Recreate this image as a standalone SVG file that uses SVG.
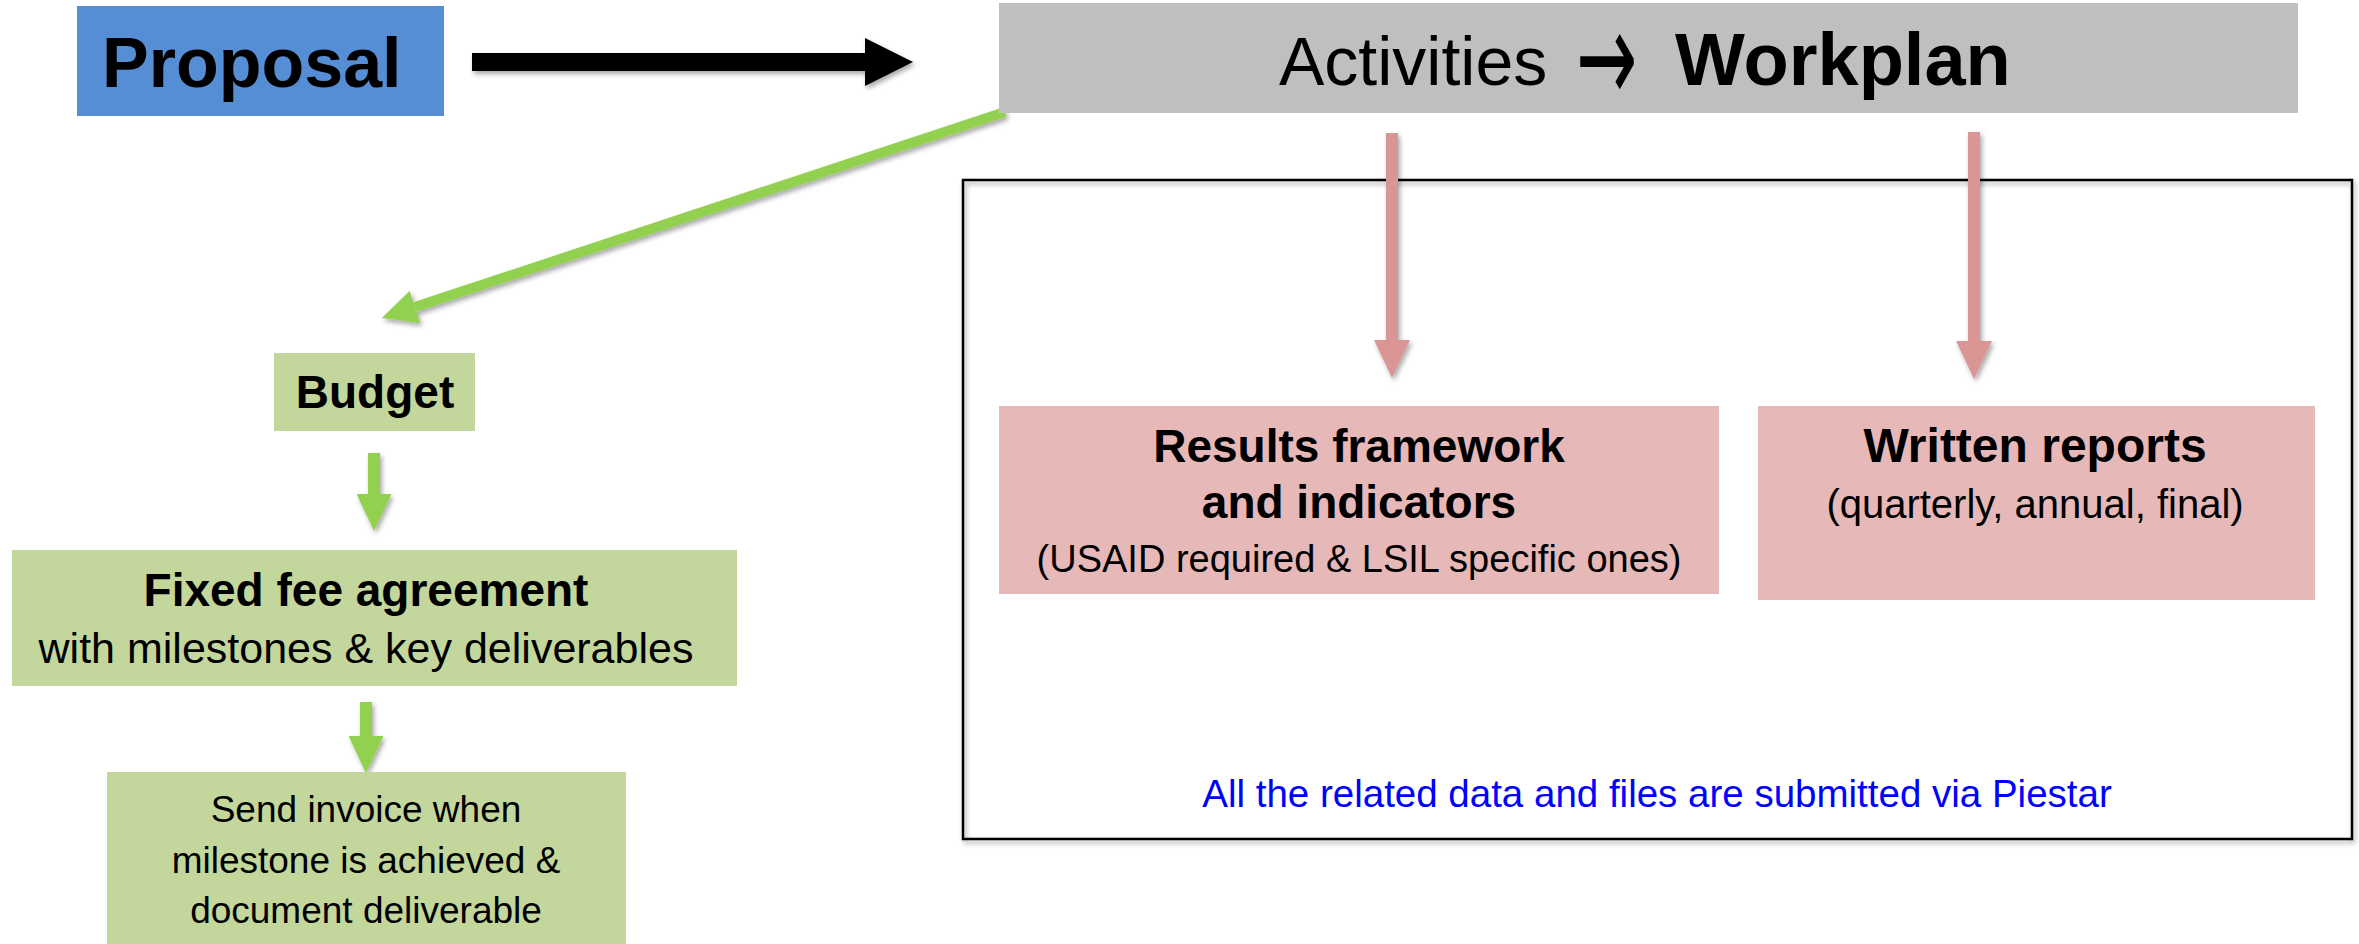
<svg xmlns="http://www.w3.org/2000/svg" width="2359" height="944" viewBox="0 0 2359 944">
<style>
text{font-family:"Liberation Sans",Arial,sans-serif;fill:#000}
.b{font-weight:bold}
.c{text-anchor:middle}
.green{fill:#c3d69b}
.pink{fill:#e6b8b7}
text.arrow{font-family:"DejaVu Sans",sans-serif}
</style>
<defs>
<filter id="sh" x="-20%" y="-20%" width="140%" height="140%">
<feDropShadow dx="2" dy="3" stdDeviation="2.5" flood-color="#000" flood-opacity="0.35"/>
</filter>
<marker id="mBlack" markerUnits="userSpaceOnUse" markerWidth="48" markerHeight="48" viewBox="0 0 48 48" refX="0" refY="24" orient="auto"><path d="M0,0 L48,24 L0,48 z" fill="#000"/></marker>
<marker id="mGreenL" markerUnits="userSpaceOnUse" markerWidth="35" markerHeight="34" viewBox="0 0 35 34" refX="0" refY="17" orient="auto"><path d="M0,0 L35,17 L0,34 z" fill="#92d050"/></marker>
<marker id="mGreen" markerUnits="userSpaceOnUse" markerWidth="37" markerHeight="35" viewBox="0 0 37 35" refX="0" refY="17.5" orient="auto"><path d="M0,0 L37,17.5 L0,35 z" fill="#92d050"/></marker>
<marker id="mPink" markerUnits="userSpaceOnUse" markerWidth="38" markerHeight="36" viewBox="0 0 38 36" refX="0" refY="18" orient="auto"><path d="M0,0 L38,18 L0,36 z" fill="#d99694"/></marker>
</defs>
<rect width="2359" height="944" fill="#fff"/>

<g id="frame">
<rect x="963" y="180" width="1389" height="659" fill="none" stroke="#000" stroke-width="2.5" filter="url(#sh)"/>
<text class="c" x="1657" y="807" font-size="38.5" style="fill:#0000ff">All the related data and files are submitted via Piestar</text>
</g>

<g id="connectors" filter="url(#sh)">
<line x1="472" y1="62" x2="865" y2="62" stroke="#000" stroke-width="18" marker-end="url(#mBlack)"/>
<line x1="1005" y1="112" x2="415" y2="307" stroke="#92d050" stroke-width="10" marker-end="url(#mGreenL)"/>
<line x1="374" y1="453" x2="374" y2="494" stroke="#92d050" stroke-width="12" marker-end="url(#mGreen)"/>
<line x1="366" y1="702" x2="366" y2="736" stroke="#92d050" stroke-width="12" marker-end="url(#mGreen)"/>
<line x1="1392" y1="133" x2="1392" y2="340" stroke="#d99694" stroke-width="12" marker-end="url(#mPink)"/>
<line x1="1974" y1="132" x2="1974" y2="341" stroke="#d99694" stroke-width="12" marker-end="url(#mPink)"/>
</g>

<g id="proposal">
<rect x="77" y="6" width="367" height="110" fill="#558ed5"/>
<text class="b" x="102" y="87" font-size="70">Proposal</text>
</g>

<g id="workplan">
<rect x="999" y="3" width="1299" height="110" fill="#bfbfbf"/>
<text x="1279" y="85" font-size="68">Activities</text>
<text class="arrow" transform="translate(1576,57) scale(0.85,1.5)" x="0" y="30" font-size="86">→</text>
<text class="b" x="1675" y="85" font-size="74">Workplan</text>
</g>

<g id="budget">
<rect class="green" x="274" y="353" width="201" height="78"/>
<text class="b c" x="375" y="408" font-size="46">Budget</text>
</g>

<g id="agreement">
<rect class="green" x="12" y="550" width="725" height="136"/>
<text class="b c" x="366" y="606" font-size="46">Fixed fee agreement</text>
<text class="c" x="366" y="663" font-size="43">with milestones &amp; key deliverables</text>
</g>

<g id="invoice">
<rect class="green" x="107" y="772" width="519" height="180"/>
<text class="c" x="366" y="822" font-size="37">Send invoice when</text>
<text class="c" x="366" y="873" font-size="37">milestone is achieved &amp;</text>
<text class="c" x="366" y="923" font-size="37">document deliverable</text>
</g>

<g id="results">
<rect class="pink" x="999" y="406" width="720" height="188"/>
<text class="b c" x="1359" y="462" font-size="46">Results framework</text>
<text class="b c" x="1359" y="518" font-size="46">and indicators</text>
<text class="c" x="1359" y="572" font-size="38">(USAID required &amp; LSIL specific ones)</text>
</g>

<g id="reports">
<rect class="pink" x="1758" y="406" width="557" height="194"/>
<text class="b c" x="2035" y="462" font-size="48">Written reports</text>
<text class="c" x="2035" y="518" font-size="40">(quarterly, annual, final)</text>
</g>
</svg>
